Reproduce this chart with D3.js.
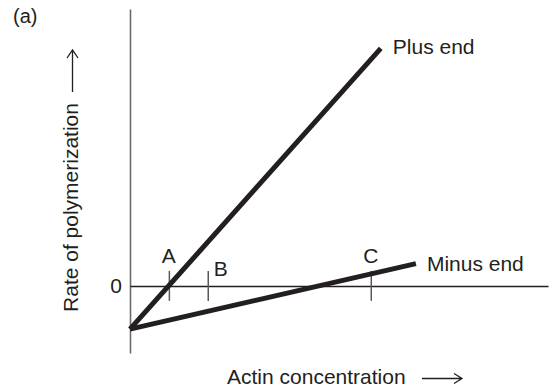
<!DOCTYPE html>
<html>
<head>
<meta charset="utf-8">
<script src="https://cdn.jsdelivr.net/npm/d3@7/dist/d3.min.js"></script>
<style>
  html, body { margin: 0; padding: 0; background: #fff; }
  svg text { font-family: "Liberation Sans", Arial, Helvetica, sans-serif; fill: #231f20; }
</style>
</head>
<body>
<svg id="chart" width="550" height="390"></svg>
<script>
// Polymerization rate vs. actin concentration (arbitrary units)
const plusEnd  = [{c: 0, r: -1.03}, {c: 6.0,  r: 5.66}];
const minusEnd = [{c: 0, r: -1.03}, {c: 6.84, r: 0.53}];

// Marked concentrations on the zero-rate line
const markNames  = ["A", "B", "C"];
const markValues = [0.93, 1.86, 5.76];

const seriesLabels = ["Plus end", "Minus end"];
const yTickValues = [0];

const svg = d3.select("#chart");
const ink = "#231f20";
const fontSize = 21;

const x = d3.scaleLinear().domain([0, 10]).range([130, 548]);
const y = d3.scaleLinear().domain([-1.6, 6.6]).range([353, 9]);

// Vertical axis with only the zero label
const yAxis = svg.append("g")
  .attr("transform", `translate(${x(0)},0)`)
  .call(d3.axisLeft(y).tickValues(yTickValues).tickSize(0).tickPadding(8).tickFormat(d3.format("d")));
yAxis.select(".domain").attr("stroke", "#6a6b6e").attr("stroke-width", 1.6);
yAxis.selectAll("text").attr("font-size", fontSize).attr("font-family", null).attr("fill", ink);

// Zero-rate line with the concentration marks crossing it
const xAxis = svg.append("g")
  .attr("transform", `translate(0,${y(0)})`)
  .call(d3.axisBottom(x).tickValues(markValues).tickSizeOuter(0).tickSizeInner(15).tickFormat(""));
xAxis.select(".domain").attr("stroke", ink).attr("stroke-width", 1.5);
xAxis.selectAll(".tick line").attr("y1", -15).attr("y2", 15)
  .attr("stroke", "#58595b").attr("stroke-width", 1.5);

// Mark letters
const markOffsets = [{dx: 0, dy: -23, anchor: "middle"},
                     {dx: 6, dy: -10, anchor: "start"},
                     {dx: 0, dy: -23, anchor: "middle"}];
svg.append("g").selectAll("text")
  .data(markNames)
  .join("text")
  .attr("x", (d, i) => x(markValues[i]) + markOffsets[i].dx)
  .attr("y", (d, i) => y(0) + markOffsets[i].dy)
  .attr("text-anchor", (d, i) => markOffsets[i].anchor)
  .attr("font-size", fontSize)
  .text(d => d);

// Rate lines
const line = d3.line().x(d => x(d.c)).y(d => y(d.r));
[plusEnd, minusEnd].forEach(s => {
  svg.append("path")
    .attr("d", line(s))
    .attr("fill", "none")
    .attr("stroke", ink)
    .attr("stroke-width", 5)
    .attr("stroke-linecap", "butt");
});

// Series labels at line ends
const ends = [plusEnd[plusEnd.length - 1], minusEnd[minusEnd.length - 1]];
const labelShift = [{dx: 12, dy: 6}, {dx: 11, dy: 7}];
svg.append("g").selectAll("text")
  .data(seriesLabels)
  .join("text")
  .attr("x", (d, i) => x(ends[i].c) + labelShift[i].dx)
  .attr("y", (d, i) => y(ends[i].r) + labelShift[i].dy)
  .attr("font-size", fontSize)
  .text(d => d);

// Axis titles with arrows
svg.append("text")
  .attr("x", 227).attr("y", 384)
  .attr("font-size", fontSize)
  .text("Actin concentration");
svg.append("path")
  .attr("d", "M422,378.5H462M454,373.5L462,378.5L454,383.5")
  .attr("fill", "none").attr("stroke", ink).attr("stroke-width", 1.3);

svg.append("text")
  .attr("transform", "translate(78,207.5) rotate(-90)")
  .attr("text-anchor", "middle")
  .attr("font-size", fontSize)
  .text("Rate of polymerization");
svg.append("path")
  .attr("d", "M72.5,92V50M67,58L72.5,50L78,58")
  .attr("fill", "none").attr("stroke", ink).attr("stroke-width", 1.3);

// Panel letter
svg.append("text")
  .attr("x", 13).attr("y", 23)
  .attr("font-size", 20)
  .text("(a)");
</script>
</body>
</html>
